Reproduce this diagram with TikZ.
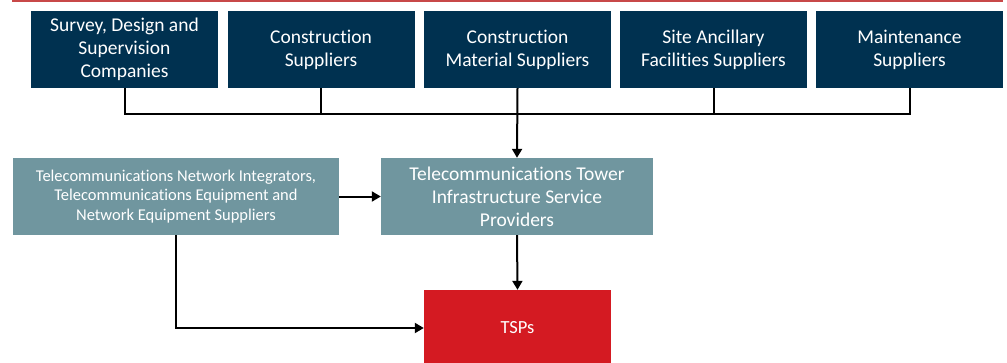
\documentclass[tikz,border=0pt]{standalone}
\usepackage{fontspec}
\setmainfont{Carlito}[Ligatures=NoCommon]
\usetikzlibrary{arrows.meta}

\definecolor{navy}{RGB}{0,49,80}
\definecolor{slate}{RGB}{112,150,159}
\definecolor{tspred}{RGB}{212,26,34}
\definecolor{topline}{RGB}{200,72,72}

\tikzset{
  supplier/.style={fill=navy,text=white,minimum width=187pt,minimum height=77pt,
    align=center,font=\fontsize{19.5}{23}\selectfont,inner sep=0pt},
  provider/.style={fill=slate,text=white,minimum height=77pt,align=center,inner sep=0pt},
  link/.style={line width=2pt},
  flow/.style={link,-{Triangle[length=9pt,width=10pt]}}
}

\begin{document}
\begin{tikzpicture}[x=1pt,y=-1pt]
      \useasboundingbox (0,0) rectangle (1007,362);
      \draw[topline,line width=1.5pt] (12,0.75) -- (1003,0.75);

      \foreach \n/\x/\txt in {s1/124.5/{Survey, Design and\\Supervision\\Companies},
                              s2/321/{Construction\\Suppliers},
                              s3/517.5/{Construction\\Material Suppliers},
                              s4/713.5/{Site Ancillary\\Facilities Suppliers},
                              s5/909.5/{Maintenance\\Suppliers}}
        \node[supplier] (\n) at (\x,49.5) {\txt};

      \node[provider,minimum width=326pt,font=\fontsize{16.5}{19.5}\selectfont] (nis) at (176,196.5)
        {Telecommunications Network Integrators,\\Telecommunications Equipment and\\Network Equipment Suppliers};
      \node[provider,minimum width=272pt,font=\fontsize{19.5}{23}\selectfont] (tisp) at (517,196.5)
        {Telecommunications Tower\\Infrastructure Service\\Providers};
      \node[fill=tspred,text=white,minimum width=187pt,minimum height=76pt,inner sep=0pt,
        font=\fontsize{18.5}{22}\selectfont] (tsp) at (517.5,328) {TSPs};

      \coordinate (bus) at (517.5,114);
      \draw[link] (s1.south) |- (bus) -| (s5.south);
      \draw[link] (s2.south) -- (s2.south |- bus);
      \draw[link] (s4.south) -- (s4.south |- bus);
      \draw[flow] (s3.south) -- (tisp.north);
      \draw[flow] (nis.east) -- (tisp.west);
      \draw[flow] (tisp.south) -- (tsp.north);
      \draw[flow] (nis.south) |- (tsp.west);
    \end{tikzpicture}
\end{document}
